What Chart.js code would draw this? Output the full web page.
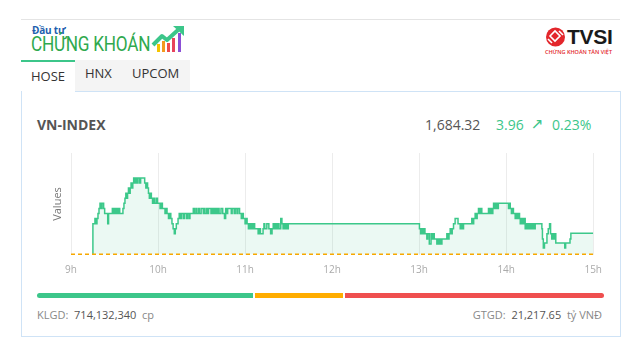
<!DOCTYPE html>
<html><head><meta charset="utf-8">
<script src="https://cdn.jsdelivr.net/npm/chart.js@4"></script>
<style>
body{margin:0;width:637px;height:358px;background:#fff;font-family:"Open Sans",sans-serif;position:relative;overflow:hidden}
.a{position:absolute;white-space:nowrap;line-height:1}
</style></head><body>
<script>
// ===== DATA =====
const refValue = 1680.36;
const lastValue = 1684.32;
const changeValue = 3.96;
const changePct = 0.23;
const hourLabels = ['9h','10h','11h','12h','13h','14h','15h'];
const minutesFrom9 = [
15,15.1,16.5,17.2,17.9,18.6,19.3,20.0,20.7,21.4,22.5,23.2,25.3,25.9,28.5,29.2,29.9,30.6,31.3,32.0,32.7,33.6,35.8,36.5,37.2,37.8,38.4,39.0,39.6,40.2,40.8,41.4,42.0,42.6,43.2,44.0,44.6,45.6,46.2,47.4,48.0,50.8,51.6,52.3,52.8,53.4,54.0,54.6,55.4,56.2,57.0,57.8,59.0,59.6,61.4,62.2,63.0,64.8,65.5,66.2,67.2,68.0,68.8,69.6,70.4,71.2,71.9,72.6,73.8,74.6,75.4,76.2,77.5,78.2,79.6,80.2,81.3,82.0,84.3,85.0,86.1,86.7,87.9,88.5,89.7,91.2,91.8,92.4,93.6,94.2,94.8,96.5,97.2,97.8,98.6,99.2,100.0,100.5,101.5,102.1,103.4,104.6,105.8,106.6,107.3,108.0,110.5,111.1,112.5,113.2,114.4,115.0,116.2,117.4,118.0,118.8,120.0,120.6,121.4,122.3,123.0,123.6,124.4,125.0,126.0,126.6,129.0,130.0,130.6,132.4,133.0,133.6,135.0,136.4,137.6,138.6,139.4,140.2,141.0,141.8,142.6,143.4,144.6,145.4,146.2,147.0,147.8,148.6,149.2,149.8,
240.2,241.0,241.6,242.4,243.2,244.0,245.3,245.9,247.0,248.2,249.0,249.6,250.4,252.2,253.0,253.6,254.6,255.0,255.7,259.1,259.8,260.6,261.4,262.2,262.8,263.7,264.8,266.8,268.3,269.0,269.8,270.6,276.3,277.0,277.6,278.6,279.4,280.0,280.9,281.6,282.4,283.2,287.8,288.6,289.4,290.2,290.8,291.3,292.0,292.8,293.6,294.6,301.6,302.2,302.8,303.6,304.2,305.0,306.2,307.0,307.8,308.6,309.2,309.7,310.6,311.4,312.2,313.1,313.8,314.4,315.0,315.6,316.2,316.8,317.4,318.0,318.6,319.4,320.0,324.6,325.0,325.6,326.4,328.1,329.0,329.9,330.6,331.4,332.0,332.6,333.4,334.2,340.4,341.0,344.0,344.6,360
];
const indexValues = [
1680.36,1686.13,1687.09,1686.13,1687.09,1688.05,1689.01,1689.98,1689.01,1689.98,1689.01,1688.05,1686.13,1688.05,1689.01,1688.05,1689.01,1688.05,1689.01,1688.05,1689.01,1688.05,1689.01,1689.98,1690.94,1691.90,1690.94,1691.90,1692.86,1691.90,1692.86,1693.82,1692.86,1693.82,1694.78,1693.82,1694.78,1693.82,1694.78,1693.82,1694.78,1693.82,1692.86,1693.82,1692.86,1691.90,1690.94,1691.90,1690.94,1689.98,1690.94,1689.98,1690.94,1689.98,1689.01,1689.98,1689.01,1688.05,1689.01,1688.05,1687.09,1688.05,1687.09,1686.13,1685.17,1684.21,1685.17,1686.13,1687.09,1688.05,1687.09,1688.05,1687.09,1688.05,1687.09,1688.05,1687.09,1688.05,1689.01,1688.05,1689.01,1688.05,1689.01,1688.05,1689.01,1688.05,1689.01,1688.05,1689.01,1688.05,1689.01,1688.05,1689.01,1688.05,1689.01,1688.05,1689.01,1688.05,1689.01,1688.05,1689.01,1688.05,1687.09,1689.01,1688.05,1689.01,1688.05,1689.01,1688.05,1689.01,1688.05,1689.01,1688.05,1687.09,1688.05,1687.09,1686.13,1687.09,1686.13,1685.17,1686.13,1685.17,1686.13,1685.17,1686.13,1685.17,1684.21,1685.17,1684.21,1685.17,1686.13,1685.17,1686.13,1685.17,1684.21,1685.17,1686.13,1685.17,1686.13,1685.17,1686.13,1685.17,1687.09,1686.13,1685.17,1686.13,1685.17,1686.13,1685.17,1686.13,
1685.17,1684.21,1685.17,1684.21,1685.17,1684.21,1683.24,1684.21,1682.28,1684.21,1683.24,1684.21,1683.24,1682.28,1683.24,1682.28,1683.24,1682.28,1683.24,1684.21,1683.24,1684.21,1685.17,1684.21,1685.17,1686.13,1687.09,1686.13,1685.17,1686.13,1685.17,1686.13,1687.09,1686.13,1687.09,1688.05,1687.09,1688.05,1689.01,1688.05,1689.01,1688.05,1689.01,1688.05,1689.01,1688.05,1689.01,1689.98,1689.01,1689.98,1689.01,1689.98,1689.01,1689.98,1689.01,1688.05,1689.01,1688.05,1687.09,1688.05,1687.09,1688.05,1687.09,1686.13,1687.09,1686.13,1687.09,1685.17,1686.13,1685.17,1686.13,1685.17,1686.13,1685.17,1686.13,1685.17,1686.13,1685.17,1686.13,1685.17,1683.24,1681.51,1682.48,1684.21,1685.17,1686.13,1684.21,1683.24,1684.21,1683.24,1684.21,1682.48,1681.51,1682.48,1683.24,1684.32,1684.32
];
const volumeText = '714,132,340';
const valueText = '21,217.65';
const breadthShares = [216, 88, 259]; // advancing / unchanged / declining bar widths
</script>

<!-- header -->
<div class="a" style="left:21px;top:19px;width:599px;height:1px;background:#e4e4e4"></div>
<div class="a" style="left:32px;top:25px;font-size:10px;font-weight:700;color:#1d5fae;letter-spacing:-0.2px">Đầu tư</div>
<div class="a" style="left:31px;top:34px;font-family:Roboto,sans-serif;font-size:20.5px;color:#2fa94e;transform:scaleX(0.84);transform-origin:left top;letter-spacing:-0.3px">CHỨNG KHOÁN</div>
<svg class="a" style="left:150px;top:24px" width="36" height="30" viewBox="0 0 36 30">
  <rect x="7" y="20" width="3" height="8" fill="#f5c400"/>
  <rect x="12" y="17" width="3" height="11" fill="#f39a1e"/>
  <rect x="17" y="19" width="3" height="9" fill="#ee4b4b"/>
  <rect x="22" y="14" width="3" height="14" fill="#e8435c"/>
  <rect x="28" y="9" width="3" height="19" fill="#8b4fd6"/>
  <polyline points="3,21 12,12 17,16 28,6" fill="none" stroke="#3cc68a" stroke-width="4" stroke-linejoin="round"/>
  <polygon points="23,2 34,2 34,12" fill="#3cc68a"/>
</svg>
<svg class="a" style="left:545px;top:27px" width="22" height="20" viewBox="0 0 22 20">
  <circle cx="10.5" cy="10" r="9.5" fill="#e3262b"/>
  <path d="M5 9 L10 4 L15 9 L10 14 Z" fill="none" stroke="#fff" stroke-width="1.6"/>
  <path d="M3 12 L7 16 M14 4 L18 8" stroke="#fff" stroke-width="1.6"/>
</svg>
<div class="a" style="left:567px;top:26px;font-family:'Liberation Sans',sans-serif;font-size:21px;font-weight:700;color:#1a1a1a;letter-spacing:-0.3px">TVSI</div>
<div class="a" style="left:545px;top:50px;font-size:5.5px;color:#e3262b;font-weight:600">CHỨNG KHOÁN TÂN VIỆT</div>

<!-- tabs -->
<div class="a" style="left:21px;top:60px;width:54px;height:2px;background:#3cc68a"></div>
<div class="a" style="left:75px;top:60px;width:115px;height:31px;background:#f4f4f4"></div>
<div class="a" style="left:31px;top:70px;font-size:13px;color:#333">HOSE</div>
<div class="a" style="left:85px;top:67px;font-size:13px;color:#333">HNX</div>
<div class="a" style="left:132px;top:67px;font-size:13px;color:#333">UPCOM</div>

<!-- card -->
<div class="a" style="left:21px;top:91px;width:600px;height:246px;box-sizing:border-box;border:1px solid #cfe3f6"></div>
<div class="a" style="left:22px;top:91px;width:53px;height:1px;background:#fff"></div>
<div class="a" style="left:37px;top:118px;font-size:14px;font-weight:700;color:#555">VN-INDEX</div>
<div class="a" id="lastV" style="left:425px;top:118px;font-size:14px;color:#555"></div>
<div class="a" id="chgV" style="left:496px;top:118px;font-size:14px;color:#3cc68a"></div>
<div class="a" style="left:531px;top:117px;font-size:15px;color:#3cc68a;font-family:'DejaVu Sans',sans-serif">↗</div>
<div class="a" id="pctV" style="left:552px;top:118px;font-size:14px;color:#3cc68a"></div>

<canvas id="c" width="566" height="135" style="position:absolute;left:45px;top:150px;width:566px;height:135px"></canvas>

<div class="a" id="bar0" style="left:37px;top:293px;height:5px;background:#3cc68a;border-radius:3px 0 0 3px"></div>
<div class="a" id="bar1" style="left:255px;top:293px;height:5px;background:#ffad00"></div>
<div class="a" id="bar2" style="left:345px;top:293px;height:5px;background:#ef4f4f;border-radius:0 3px 3px 0"></div>

<div class="a" style="left:37px;top:309px;font-size:11px;color:#888">KLGD:&nbsp; <span id="vol" style="color:#555"></span>&nbsp; cp</div>
<div class="a" style="right:35px;top:309px;font-size:11px;color:#888">GTGD:&nbsp; <span id="val" style="color:#555"></span>&nbsp; tỷ VNĐ</div>

<script>
document.getElementById('lastV').textContent = lastValue.toLocaleString('en-US',{minimumFractionDigits:2});
document.getElementById('chgV').textContent = changeValue.toFixed(2);
document.getElementById('pctV').textContent = changePct.toFixed(2) + '%';
document.getElementById('vol').textContent = volumeText;
document.getElementById('val').textContent = valueText;
breadthShares.forEach((w,i)=>{document.getElementById('bar'+i).style.width = w + 'px';});

const pts = minutesFrom9.map((m,i)=>({x:m, y:indexValues[i]}));
const refLine = [{x:0,y:refValue},{x:360,y:refValue}];

new Chart(document.getElementById('c'), {
  type: 'line',
  data: {
    datasets: [
      {
        data: pts,
        borderColor: '#3cc88a',
        backgroundColor: 'rgba(60,200,138,0.10)',
        borderWidth: 1.5,
        pointRadius: 0,
        stepped: 'before',
        fill: {value: refValue},
        order: 2
      },
      {
        data: refLine,
        borderColor: '#f7a800',
        borderWidth: 1.5,
        borderDash: [4,3],
        pointRadius: 0,
        fill: false,
        clip: false,
        order: 1
      }
    ]
  },
  options: {
    responsive: false,
    animation: false,
    devicePixelRatio: 1,
    layout: {padding: {top: 3, right: 0, left: 6, bottom: 0}},
    plugins: {legend: {display: false}, tooltip: {enabled: false}},
    scales: {
      x: {
        type: 'linear', min: 0, max: 360,
        grid: {display: true, color: '#ececec', drawTicks: false},
        border: {display: false},
        ticks: {
          stepSize: 60, autoSkip: false, maxRotation: 0, padding: 9,
          color: '#aaa', font: {family: 'Open Sans', size: 10},
          callback: (v) => hourLabels[Math.round(v/60)]
        }
      },
      y: {
        min: 1680.2, max: 1699.5,
        grid: {display: false},
        border: {display: false},
        ticks: {display: false},
        title: {display: true, text: 'Values', color: '#777', font: {family: 'Open Sans', size: 11}, padding: {top: 0, bottom: 0}},
        afterFit: (s) => { s.width = 20; }
      }
    }
  }
});
</script>
</body></html>
